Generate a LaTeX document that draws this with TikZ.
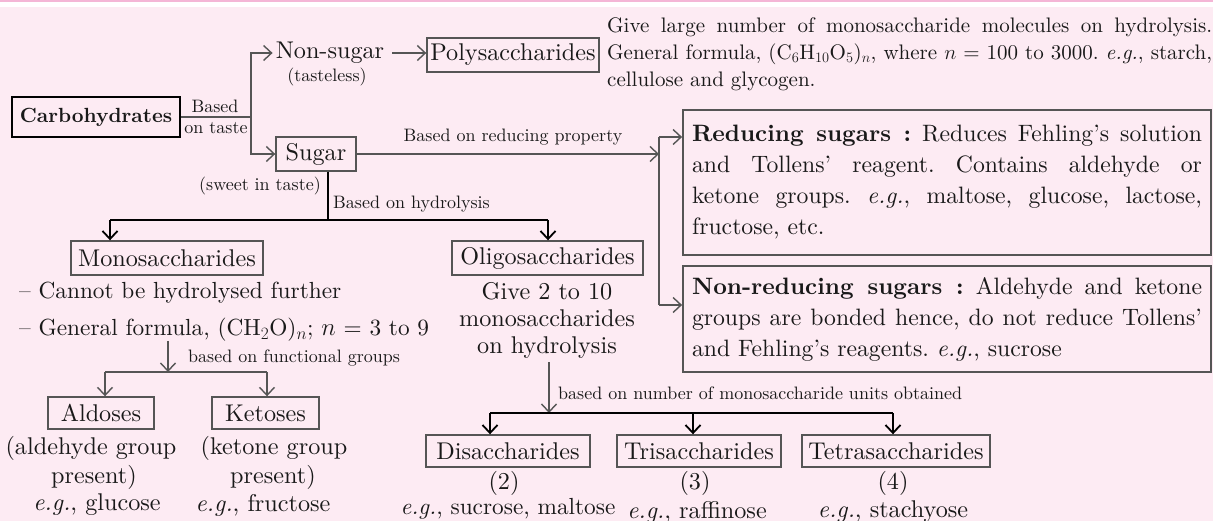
\documentclass[tikz,border=0pt]{standalone}
\usepackage{fontspec}
\setmainfont{lmroman10}[Extension=.otf,UprightFont=*-regular,BoldFont=*-bold,
  ItalicFont=*-italic,BoldItalicFont=*-bolditalic]
\usetikzlibrary{arrows.meta,calc}
\definecolor{bgpink}{RGB}{253,235,243}
\definecolor{toppink}{RGB}{244,182,214}
\definecolor{linegray}{RGB}{85,85,85}
\definecolor{ink}{RGB}{25,25,25}
% a justified line of given width (stretchable inter-word spaces)
\newcommand{\fullline}[2]{{\spaceskip=0pt\xspaceskip=0pt\makebox[#1pt][s]{#2}}}
\frenchspacing
\begin{document}
\begin{tikzpicture}[x=1pt,y=-1pt,
  txt/.style={text=ink,inner sep=0pt,font=\fontsize{24.2}{28.5}\selectfont},
  smalltxt/.style={text=ink,inner sep=0pt,font=\fontsize{18}{21}\selectfont},
  labelbox/.style={draw=linegray,line width=1.4pt,inner sep=0pt,text=ink,font=\fontsize{24.2}{28}\selectfont},
  infobox/.style={labelbox,line width=1.8pt,minimum width=528,text width=510,align=left,inner xsep=9pt,font=\fontsize{23.7}{31}\selectfont},
  conn/.style={draw=linegray,line width=1.4pt},
  dark/.style={draw=black,line width=1.8pt},
  arr/.style={-{Straight Barb[length=8pt,width=15pt]}},
]
\useasboundingbox (0,0) rectangle (1213,521);
% page background with the thin rule on top
\fill[bgpink] (0,7) rectangle (1213,521);
\fill[white] (0,1.8) rectangle (1213,7);
\fill[toppink] (0,0) rectangle (1213,1.8);

% ---- taste branch
\node[labelbox,draw=black,line width=2pt,minimum width=168,minimum height=40,
      font=\fontsize{20.5}{25}\selectfont\bfseries] (carb) at (96,117) {Carbohydrates};
\node[smalltxt] (based1) at (215,106) {Based};
\node[smalltxt] (based2) at (216,128) {on taste};
\node[txt,inner xsep=3pt] (nonsugar) at (330,53) {Non-sugar};
\node[smalltxt] (tasteless) at (327,77) {(tasteless)};
\node[labelbox,minimum width=172,minimum height=34] (poly) at (513,55) {Polysaccharides};
\node[labelbox,minimum width=80,minimum height=34] (sugar) at (316,154) {Sugar};
\node[smalltxt] (sweet) at (260,186) {(sweet in taste)};

\node[text=ink,inner sep=0pt,anchor=north west,text width=605,align=left,
      font=\fontsize{21}{27}\selectfont] (polytext) at (607,17)
 {\fullline{605}{Give large number of monosaccharide molecules on hydrolysis.}\\
  \fullline{605}{General formula, (C$_6$H$_{10}$O$_5$)$_n$, where $n$ = 100 to 3000. \textit{e.g.}, starch,}\\
  cellulose and glycogen.};

\coordinate (jc) at (251,117);
\draw[conn] (carb.east) -- (jc);
\draw[conn,arr] (jc) |- (nonsugar.west);
\draw[conn,arr] (jc) |- (sugar.west);
\draw[conn,arr,shorten <=5pt] (nonsugar.east) -- (nonsugar.east -| poly.west);

% ---- reducing property branch
\node[infobox,minimum height=145] (red) at (947,182.5)
 {\fullline{510}{\textbf{Reducing sugars :} Reduces Fehling's solution}\\
  \fullline{510}{and Tollens' reagent. Contains aldehyde or}\\
  \fullline{510}{ketone groups. \textit{e.g.}, maltose, glucose, lactose,}\\
  fructose, etc.};
\node[infobox,minimum height=106] (nonred) at (947,319)
 {\fullline{510}{\textbf{Non-reducing sugars :} Aldehyde and ketone}\\
  \fullline{510}{groups are bonded hence, do not reduce Tollens’}\\
  and Fehling’s reagents. \textit{e.g.}, sucrose};
\coordinate (rtop) at (659,137);
\coordinate (rbot) at (659,305);
\draw[conn] (rtop) -- (rbot);
\draw[conn,arr] (rtop) -- (rtop -| red.west);
\draw[conn,arr] (rbot) -- (rbot -| nonred.west);
\draw[conn,arr] (sugar.east) -- (sugar.east -| rtop);
\node[smalltxt] (redlbl) at (513,137) {Based on reducing property};

% ---- hydrolysis branch
\node[labelbox,minimum width=192,minimum height=34] (mono) at (167,258) {Monosaccharides};
\node[labelbox,minimum width=191,minimum height=34] (oligo) at (547.5,258) {Oligosaccharides};
\coordinate (hy) at (328,220);
\coordinate (hyl) at (110,220);
\coordinate (hyr) at (548,220);
\draw[dark] (hy |- sugar.south) -- (hy);
\draw[dark] (hyl) -- (hyr);
\draw[dark,arr] (hyl) -- (hyl |- mono.north);
\draw[dark,arr] (hyr) -- (hyr |- oligo.north);
\node[smalltxt,anchor=west] (hylbl) at (333,204) {Based on hydrolysis};

\node[txt,anchor=west,font=\fontsize{23.3}{28}\selectfont] (m1) at (19,293) {– Cannot be hydrolysed further};
\node[txt,anchor=west,font=\fontsize{23.3}{28}\selectfont] (m2) at (19,330) {– General formula, (CH$_2$O)$_n$; $n$ = 3 to 9};

% ---- functional groups
\node[labelbox,minimum width=106,minimum height=32] (ald) at (101,413) {Aldoses};
\node[labelbox,minimum width=107,minimum height=32] (ket) at (265.5,413) {Ketoses};
\coordinate (f1) at (168,341);
\coordinate (f2) at (168,372);
\coordinate (fl) at (105,372);
\coordinate (fr) at (267,372);
\draw[conn,arr] (f1) -- (f2);
\draw[conn] (fl) -- (fr);
\draw[conn,arr] (fl) -- (fl |- ald.north);
\draw[conn,arr] (fr) -- (fr |- ket.north);
\node[smalltxt,anchor=west] (fglbl) at (188,358) {based on functional groups};

\node[txt] (a1) at (91,448) {(aldehyde group};
\node[txt] (a2) at (94,477) {present)};
\node[txt] (a3) at (97,505) {\textit{e.g.}, glucose};
\node[txt] (k1) at (274,448) {(ketone group};
\node[txt] (k2) at (273,477) {present)};
\node[txt] (k3) at (263,505) {\textit{e.g.}, fructose};

% ---- oligosaccharide split
\node[txt,align=center,font=\fontsize{24.2}{27}\selectfont] (otext) at (547,320)
 {Give 2 to 10\\monosaccharides\\on hydrolysis};
\node[labelbox,minimum width=164,minimum height=32] (di) at (508,451) {Disaccharides};
\node[labelbox,minimum width=164,minimum height=32] (tri) at (699,451) {Trisaccharides};
\node[labelbox,minimum width=188,minimum height=32] (tetra) at (896,451) {Tetrasaccharides};
\coordinate (o1) at (549,362);
\coordinate (o2) at (549,413);
\coordinate (ol) at (490,413);
\coordinate (om) at (693,413);
\coordinate (or) at (893,413);
\draw[conn,arr] (o1) -- (o2);
\draw[dark] (ol) -- (or);
\draw[dark,arr] (ol) -- (ol |- di.north);
\draw[dark,arr] (om) -- (om |- tri.north);
\draw[dark,arr] (or) -- (or |- tetra.north);
\node[smalltxt,anchor=west] (olbl) at (558,393) {based on number of monosaccharide units obtained};

\node[txt] (d1) at (504,483) {(2)};
\node[txt,font=\fontsize{23.3}{28}\selectfont] (d2) at (508,509) {\textit{e.g.}, sucrose, maltose};
\node[txt] (t1) at (695,483) {(3)};
\node[txt] (t2) at (697,512) {\textit{e.g.}, raffinose};
\node[txt] (q1) at (893,483) {(4)};
\node[txt] (q2) at (893,512) {\textit{e.g.}, stachyose};
\end{tikzpicture}
\end{document}
